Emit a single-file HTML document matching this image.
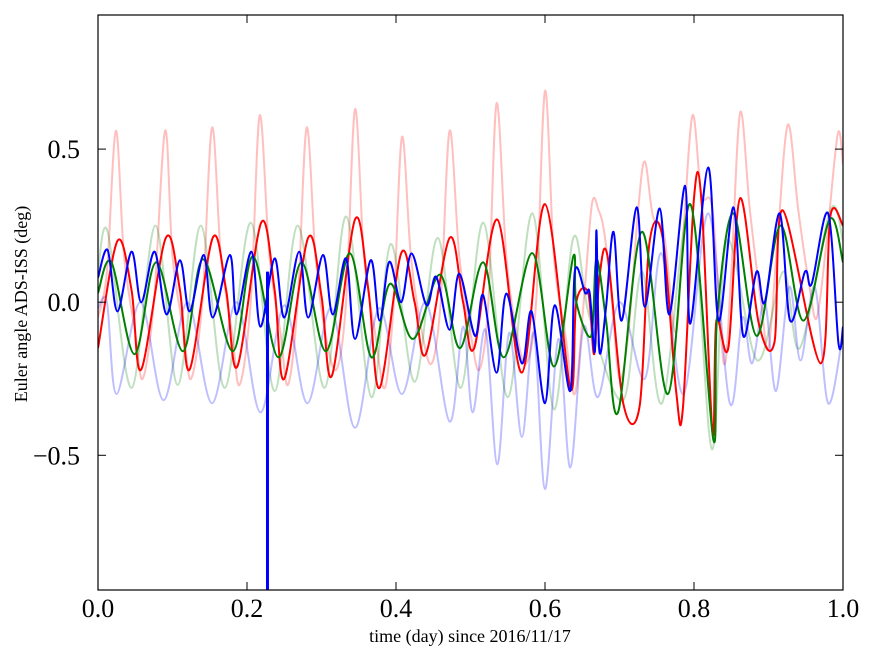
<!DOCTYPE html>
<html><head><meta charset="utf-8"><style>
body{margin:0;background:#fff;}
svg text{font-family:"Liberation Serif",serif;fill:#000;}
</style></head><body>
<svg id="chart" width="875" height="662" viewBox="0 0 875 662" xmlns="http://www.w3.org/2000/svg">
<rect width="875" height="662" fill="#fff"/>
<g id="series"></g>
<g id="axes"></g>
<text x="470" y="642" font-size="18" text-anchor="middle">time (day) since 2016/11/17</text>
<text transform="translate(27,304) rotate(-90)" font-size="18" text-anchor="middle">Euler angle ADS-ISS (deg)</text>
</svg>
<script>
const xTicks=[0,0.2,0.4,0.6,0.8,1.0];
const xTickLabels=["0.0","0.2","0.4","0.6","0.8","1.0"];
const yTicks=[0.5,0,-0.5];
const yTickLabels=["0.5","0.0","\u22120.5"];

const pinkT=[0,0.012,0.024,0.035,0.05,0.06,0.075,0.09,0.1,0.115,0.125,0.14,0.153,0.165,0.18,0.19,0.205,0.217,0.23,0.245,0.255,0.268,0.28,0.292,0.305,0.32,0.333,0.345,0.357,0.372,0.385,0.397,0.408,0.42,0.435,0.448,0.46,0.472,0.485,0.5,0.512,0.524,0.535,0.548,0.562,0.575,0.588,0.6,0.612,0.627,0.64,0.652,0.663,0.672,0.68,0.69,0.7,0.712,0.725,0.734,0.745,0.76,0.775,0.785,0.798,0.81,0.825,0.84,0.85,0.862,0.875,0.89,0.9,0.912,0.926,0.94,0.955,0.965,0.978,0.993,1.0];
const pinkV=[-0.05,0.1,0.56,0.15,-0.1,-0.25,0.0,0.56,0.15,-0.1,-0.25,0.0,0.57,0.15,-0.1,-0.27,0.0,0.61,0.15,-0.1,-0.27,0.0,0.57,0.15,-0.1,-0.22,0.0,0.63,0.15,-0.1,-0.28,0.0,0.54,0.15,-0.1,-0.2,0.0,0.56,0.15,-0.1,-0.22,0.0,0.65,0.15,-0.1,-0.2,0.0,0.69,0.15,-0.1,-0.3,0.0,0.32,0.3,0.22,0.0,-0.25,-0.1,0.3,0.46,0.28,0.22,-0.1,0.2,0.61,0.35,0.3,-0.2,0.1,0.62,0.3,0.0,-0.15,0.2,0.58,0.3,0.05,-0.05,0.2,0.55,0.45];

const lgreenT=[0,0.013,0.045,0.077,0.107,0.138,0.17,0.205,0.237,0.268,0.304,0.333,0.367,0.393,0.425,0.456,0.487,0.517,0.55,0.583,0.612,0.638,0.66,0.705,0.73,0.757,0.795,0.824,0.844,0.885,0.92,0.942,0.983,1.0];
const lgreenV=[0.1,0.23,-0.28,0.25,-0.27,0.25,-0.28,0.26,-0.29,0.25,-0.28,0.28,-0.31,0.19,-0.26,0.21,-0.28,0.26,-0.31,0.29,-0.35,0.21,-0.05,-0.32,0.1,-0.33,0.32,-0.48,0.2,-0.19,0.1,-0.15,0.3,0.2];

const lblueT=[0,0.012,0.025,0.057,0.088,0.12,0.153,0.186,0.218,0.25,0.281,0.313,0.345,0.377,0.408,0.44,0.472,0.49,0.503,0.52,0.536,0.552,0.569,0.585,0.6,0.618,0.634,0.652,0.671,0.7,0.734,0.756,0.786,0.819,0.848,0.865,0.878,0.895,0.91,0.928,0.943,0.962,0.98,1.0];
const lblueV=[-0.02,0.0,-0.3,0.0,-0.32,0.0,-0.33,0.0,-0.36,-0.01,-0.33,-0.02,-0.41,-0.02,-0.3,0.0,-0.39,-0.08,-0.36,-0.09,-0.53,-0.1,-0.44,-0.1,-0.61,-0.12,-0.54,-0.08,-0.31,0.0,-0.25,0.16,-0.3,0.29,-0.33,-0.05,-0.2,0.0,-0.29,0.05,-0.19,0.05,-0.33,-0.1];

const redT=[0,0.026,0.045,0.058,0.091,0.11,0.123,0.154,0.172,0.187,0.219,0.237,0.25,0.282,0.3,0.314,0.345,0.363,0.378,0.407,0.425,0.44,0.472,0.49,0.505,0.536,0.569,0.6,0.634,0.642,0.658,0.666,0.673,0.684,0.705,0.727,0.74,0.758,0.776,0.785,0.8,0.81,0.825,0.83,0.846,0.862,0.887,0.908,0.919,0.97,0.983,1.0];
const redV=[-0.15,0.2,0.04,-0.22,0.21,0.04,-0.22,0.21,0.04,-0.21,0.26,0.04,-0.25,0.21,0.02,-0.24,0.27,0.04,-0.28,0.16,0.0,-0.17,0.21,0.0,-0.15,0.27,-0.23,0.32,-0.28,0.0,0.03,-0.17,0.08,0.15,-0.33,-0.34,0.19,0.21,-0.29,-0.35,0.34,0.33,-0.43,-0.06,-0.15,0.34,-0.07,-0.13,0.3,-0.2,0.28,0.25];

const greenT=[0,0.018,0.049,0.078,0.114,0.141,0.181,0.208,0.242,0.273,0.306,0.338,0.367,0.392,0.423,0.459,0.486,0.517,0.545,0.583,0.612,0.638,0.642,0.662,0.669,0.682,0.698,0.73,0.765,0.795,0.826,0.831,0.853,0.884,0.916,0.947,0.982,1.0];
const greenV=[0.03,0.13,-0.17,0.13,-0.16,0.14,-0.16,0.15,-0.18,0.13,-0.16,0.16,-0.18,0.06,-0.12,0.09,-0.15,0.13,-0.18,0.16,-0.21,0.15,0.0,-0.11,0.14,-0.06,-0.36,0.23,-0.3,0.32,-0.45,-0.05,0.29,-0.11,0.25,-0.06,0.27,0.13];

const blueT=[0,0.013,0.026,0.045,0.058,0.076,0.092,0.11,0.123,0.142,0.154,0.177,0.186,0.206,0.218,0.237,0.25,0.27,0.282,0.302,0.315,0.333,0.345,0.366,0.378,0.391,0.407,0.421,0.441,0.454,0.472,0.485,0.506,0.517,0.535,0.548,0.569,0.582,0.6,0.613,0.634,0.64,0.654,0.66,0.667,0.669,0.673,0.682,0.692,0.703,0.723,0.734,0.754,0.767,0.788,0.795,0.819,0.833,0.853,0.866,0.884,0.895,0.915,0.929,0.949,0.958,0.98,0.994,1.0];
const blueV=[0.08,0.17,-0.03,0.165,0.0,0.165,-0.04,0.137,-0.03,0.154,-0.05,0.154,-0.04,0.165,-0.08,0.143,-0.05,0.165,-0.05,0.154,-0.04,0.143,-0.12,0.137,-0.06,0.132,0.0,0.159,-0.01,0.083,-0.09,0.093,-0.11,0.023,-0.23,0.028,-0.2,-0.03,-0.33,-0.01,-0.29,0.1,0.03,0.03,-0.16,0.235,-0.16,-0.015,0.23,-0.06,0.31,-0.015,0.306,-0.04,0.38,-0.07,0.44,-0.06,0.31,-0.11,0.1,0.0,0.29,-0.06,0.1,0.06,0.29,-0.135,-0.08];
const blueSpikeT=[0.2275];
const blueSpikeV=[-0.95];

const X0=98,X1=843,Y0=15,Y1=590;
const xMin=0,xMax=1,yMin=-0.94,yMax=0.938;
function sx(t){return X0+(t-xMin)/(xMax-xMin)*(X1-X0);}
function sy(v){return Y1-(v-yMin)/(yMax-yMin)*(Y1-Y0);}
const NS="http://www.w3.org/2000/svg";
function mk(tag,attrs,parent){const e=document.createElementNS(NS,tag);for(const k in attrs)e.setAttribute(k,attrs[k]);parent.appendChild(e);return e;}
function smoothPath(T,V){
  const p=T.map((t,i)=>[sx(t),sy(V[i])]);
  let d="M"+p[0][0].toFixed(1)+","+p[0][1].toFixed(1);
  for(let i=0;i<p.length-1;i++){
    const p0=p[i>0?i-1:i],p1=p[i],p2=p[i+1],p3=p[i+2<p.length?i+2:i+1];
    const c1=[p1[0]+(p2[0]-p0[0])/6,p1[1]+(p2[1]-p0[1])/6];
    const c2=[p2[0]-(p3[0]-p1[0])/6,p2[1]-(p3[1]-p1[1])/6];
    d+=" C"+c1[0].toFixed(1)+","+c1[1].toFixed(1)+" "+c2[0].toFixed(1)+","+c2[1].toFixed(1)+" "+p2[0].toFixed(1)+","+p2[1].toFixed(1);
  }
  return d;
}
const sg=document.getElementById("series");
const defs=mk("clipPath",{id:"clip"},sg);
mk("rect",{x:X0,y:Y0,width:X1-X0,height:Y1-Y0},defs);
const series=[
 [pinkT,pinkV,"rgba(255,0,0,0.25)","roll-reference-line"],
 [lgreenT,lgreenV,"rgba(0,128,0,0.25)","pitch-reference-line"],
 [lblueT,lblueV,"rgba(0,0,255,0.25)","yaw-reference-line"],
 [redT,redV,"#ff0000","roll-line"],
 [greenT,greenV,"#008000","pitch-line"],
 [blueT,blueV,"#0000ff","yaw-line"]
];
series.forEach(s=>{
  const el=mk("path",{d:smoothPath(s[0],s[1]),fill:"none",stroke:s[2],"stroke-width":2,"stroke-linejoin":"round","clip-path":"url(#clip)"},sg);
  
  
});
blueSpikeT.forEach((t,i)=>{
  const el=mk("line",{x1:sx(t),x2:sx(t),y1:sy(0.1),y2:sy(blueSpikeV[i]),stroke:"#0000ff","stroke-width":3,"clip-path":"url(#clip)"},sg);
  
  
});
const ax=document.getElementById("axes");
const frame=mk("rect",{x:X0,y:Y0,width:X1-X0,height:Y1-Y0,fill:"none",stroke:"#000","stroke-width":1.2},ax);


xTicks.forEach((t,i)=>{
  const x=sx(t);
  mk("line",{x1:x,x2:x,y1:Y1,y2:Y1-8,stroke:"#000"},ax);
  mk("line",{x1:x,x2:x,y1:Y0,y2:Y0+8,stroke:"#000"},ax);
  const tx=mk("text",{x:x,y:Y1+27,"font-size":26,"text-anchor":"middle"},ax);
  tx.textContent=xTickLabels[i];
  
  
});
yTicks.forEach((v,i)=>{
  const y=sy(v);
  mk("line",{x1:X0,x2:X0+8,y1:y,y2:y,stroke:"#000"},ax);
  mk("line",{x1:X1,x2:X1-8,y1:y,y2:y,stroke:"#000"},ax);
  const tx=mk("text",{x:X0-18,y:y+9,"font-size":26,"text-anchor":"end"},ax);
  tx.textContent=yTickLabels[i];
  
  
});
</script>
</body></html>
